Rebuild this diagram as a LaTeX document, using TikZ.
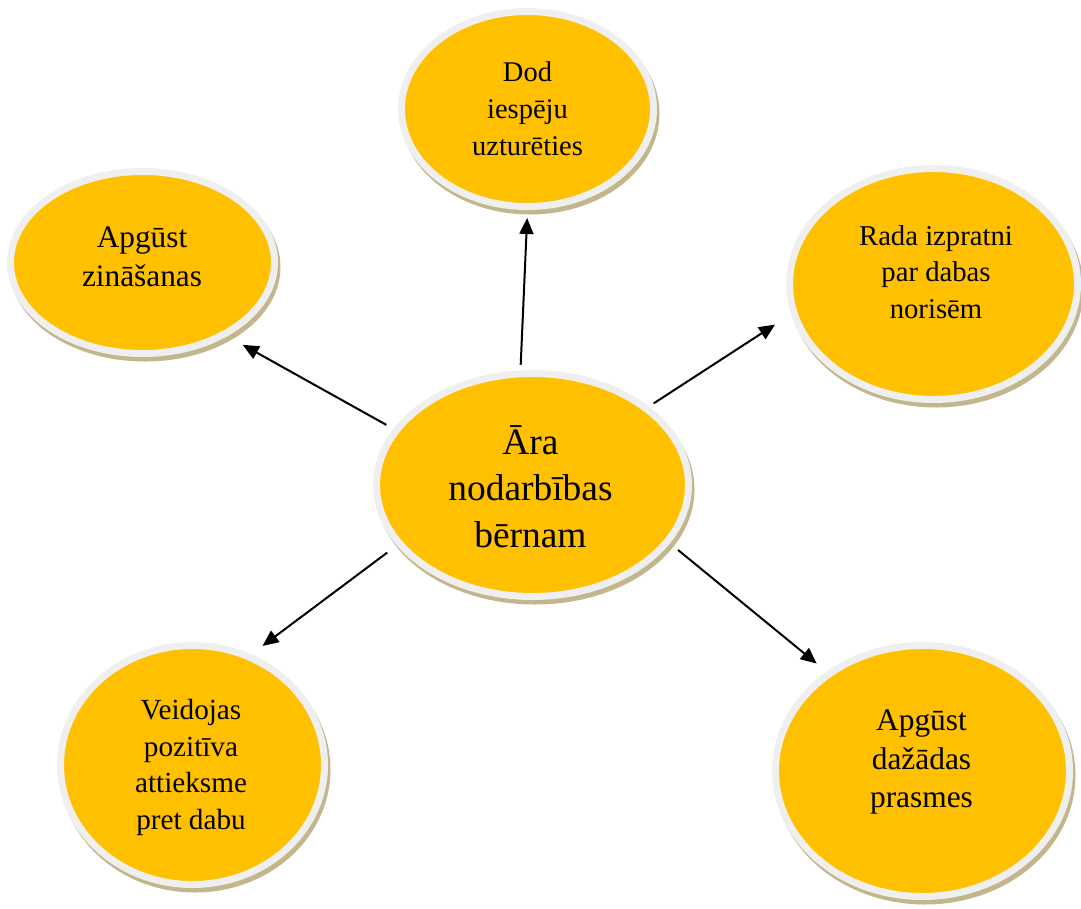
\documentclass[tikz,border=0pt]{standalone}
\usepackage{fontspec}
\setmainfont{Liberation Serif}
\usetikzlibrary{arrows.meta,shapes.geometric}
\definecolor{gold}{RGB}{255,192,0}
\definecolor{ring}{RGB}{239,239,239}
\definecolor{shade}{RGB}{196,182,140}
\tikzset{
  bubble/.style={ellipse, fill=gold, draw=ring, line width=7pt, outer sep=3.5pt, inner sep=0pt,
    preaction={draw=shade, fill=shade, line width=7pt, transform canvas={shift={(2.5pt,-4.5pt)}}}},
  lbl/.style={align=center, inner sep=0pt, text=black},
  conn/.style={line width=2pt, -{Triangle[length=16pt,width=14pt]}}
}
\begin{document}
\begin{tikzpicture}[x=1pt,y=-1pt]
\useasboundingbox (0,0) rectangle (1081,908);
% ellipses
\node[bubble, minimum width=252pt, minimum height=195pt] (top) at (527.5,109) {};
\node[bubble, minimum width=264pt, minimum height=182pt] (left) at (142.5,262.5) {};
\node[bubble, minimum width=288pt, minimum height=231pt] (right) at (933.5,284) {};
\node[bubble, minimum width=312pt, minimum height=223pt] (c) at (532.5,485) {};
\node[bubble, minimum width=264pt, minimum height=239pt] (bl) at (192.5,765) {};
\node[bubble, minimum width=294pt, minimum height=251pt] (br) at (922.5,771) {};
% texts
\node[lbl, font=\fontsize{28.5}{36.7}\selectfont] (ttop) at (527.5,108.7) {Dod\\iespēju\\uzturēties};
\node[lbl, font=\fontsize{31.3}{39.4}\selectfont] (tleft) at (142,256.7) {Apgūst\\zināšanas};
\node[lbl, font=\fontsize{28.7}{36.5}\selectfont] (tright) at (936,271.7) {Rada izpratni\\par dabas\\norisēm};
\node[lbl, font=\fontsize{37.4}{46.5}\selectfont] (tc) at (530.5,486.5) {Āra\\nodarbības\\bērnam};
\node[lbl, font=\fontsize{29.2}{36.7}\selectfont] (tbl) at (191,767.5) {Veidojas\\pozitīva\\attieksme\\pret dabu};
\node[lbl, font=\fontsize{31.4}{38.5}\selectfont] (tbr) at (921.5,762.2) {Apgūst\\dažādas\\prasmes};
% connectors
\draw[conn, shorten <=5.5pt, shorten >=8pt] (c.96.9) -- (top.270);
\draw[conn, shorten <=5.6pt, shorten >=18.9pt] (c.34.8) -- (right.192.6);
\draw[conn, shorten <=8pt, shorten >=17.7pt] (c.158.5) -- (left.319.7);
\draw[conn, shorten <=12pt, shorten >=13.9pt] (c.204.7) -- (bl.62);
\draw[conn, shorten <=10.5pt, shorten >=12.7pt] (c.337.2) -- (br.134.3);
\end{tikzpicture}
\end{document}
